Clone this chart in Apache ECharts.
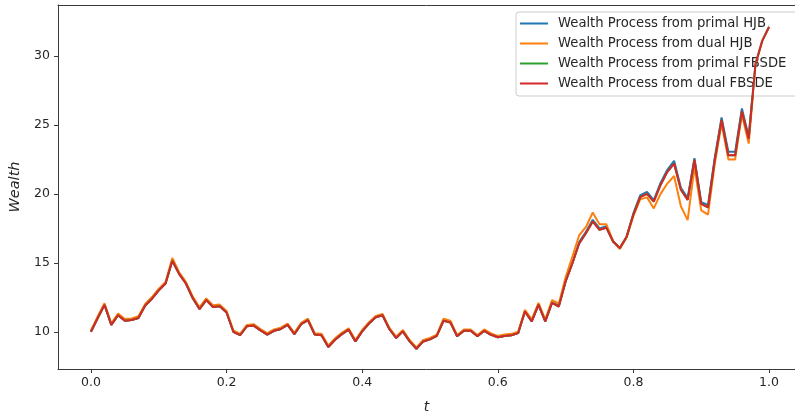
<!DOCTYPE html>
<html>
<head>
<meta charset="utf-8">
<title>Wealth Process</title>
<script src="https://cdn.jsdelivr.net/npm/echarts@6/dist/echarts.min.js"></script>
<style>
  html, body { margin: 0; padding: 0; background: #ffffff; overflow: hidden; }
  #chart { width: 795px; height: 412px; }
</style>
</head>
<body>
<div id="chart"></div>
<script>
// Time grid: 101 steps from t = 0 to t = 1
const STEPS = 100;

// Wealth paths (one value per time step)
const primalHJB = [
  10.0, 11.0, 11.95, 10.5, 11.2, 10.8, 10.85, 11.0, 11.9, 12.4,
  13.0, 13.5, 15.15, 14.2, 13.5, 12.45, 11.65, 12.3, 11.8, 11.85,
  11.4, 10.0, 9.75, 10.4, 10.45, 10.1, 9.8, 10.07, 10.2, 10.5,
  9.83, 10.55, 10.85, 9.8, 9.75, 8.9, 9.42, 9.83, 10.15, 9.3,
  10.03, 10.6, 11.05, 11.2, 10.2, 9.55, 10.03, 9.3, 8.77, 9.3,
  9.45, 9.7, 10.85, 10.75, 9.67, 10.07, 10.07, 9.67, 10.07, 9.78,
  9.6, 9.7, 9.75, 9.9, 11.47, 10.75, 11.96, 10.75, 12.15, 11.9,
  13.65, 14.97, 16.5, 17.25, 18.12, 17.5, 17.65, 16.55, 16.07, 16.9,
  18.6, 19.9, 20.15, 19.55, 20.8, 21.75, 22.4, 20.45, 19.7, 22.6,
  19.4, 19.2, 22.65, 25.55, 23.05, 23.05, 26.2, 24.15, 29.5, 31.2,
  32.2
];
const dualHJB = [
  10.1, 11.12, 12.07, 10.62, 11.32, 10.92, 10.97, 11.12, 12.02, 12.52,
  13.12, 13.62, 15.35, 14.32, 13.62, 12.57, 11.77, 12.42, 11.92, 11.97,
  11.5, 10.1, 9.85, 10.5, 10.55, 10.2, 9.9, 10.17, 10.3, 10.6,
  9.93, 10.65, 10.95, 9.9, 9.85, 9.0, 9.52, 9.93, 10.25, 9.4,
  10.13, 10.7, 11.15, 11.3, 10.3, 9.65, 10.13, 9.4, 8.87, 9.4,
  9.55, 9.8, 10.95, 10.8, 9.77, 10.17, 10.17, 9.77, 10.17, 9.88,
  9.7, 9.8, 9.85, 10.0, 11.6, 10.9, 12.1, 10.9, 12.3, 12.05,
  13.95, 15.45, 17.0, 17.6, 18.65, 17.8, 17.8, 16.6, 16.0, 16.85,
  18.4, 19.6, 19.75, 18.95, 20.0, 20.75, 21.3, 19.1, 18.1, 21.95,
  18.8, 18.5, 22.2, 25.1, 22.5, 22.5, 25.75, 23.65, 29.3, 31.1,
  32.1
];
const primalFBSDE = [
  10.0, 11.0, 11.95, 10.5, 11.2, 10.8, 10.85, 11.0, 11.9, 12.4,
  13.0, 13.5, 15.15, 14.2, 13.5, 12.45, 11.65, 12.3, 11.8, 11.85,
  11.4, 10.0, 9.75, 10.4, 10.45, 10.1, 9.8, 10.07, 10.2, 10.5,
  9.83, 10.55, 10.85, 9.8, 9.75, 8.9, 9.42, 9.83, 10.15, 9.3,
  10.03, 10.6, 11.05, 11.2, 10.2, 9.55, 10.03, 9.3, 8.77, 9.3,
  9.45, 9.7, 10.8, 10.67, 9.67, 10.07, 10.07, 9.67, 10.07, 9.78,
  9.6, 9.7, 9.75, 9.9, 11.47, 10.75, 11.96, 10.75, 12.1, 11.83,
  13.65, 14.97, 16.4, 17.15, 18.0, 17.4, 17.55, 16.55, 16.07, 16.9,
  18.5, 19.76, 20.0, 19.44, 20.65, 21.6, 22.2, 20.3, 19.57, 22.46,
  19.27, 19.03, 22.46, 25.36, 22.8, 22.8, 26.0, 24.0, 29.4, 31.1,
  32.1
];
const dualFBSDE = [
  10.0, 11.0, 11.95, 10.5, 11.2, 10.8, 10.85, 11.0, 11.9, 12.4,
  13.0, 13.5, 15.15, 14.2, 13.5, 12.45, 11.65, 12.3, 11.8, 11.85,
  11.4, 10.0, 9.75, 10.4, 10.45, 10.1, 9.8, 10.07, 10.2, 10.5,
  9.83, 10.55, 10.85, 9.8, 9.75, 8.9, 9.42, 9.83, 10.15, 9.3,
  10.03, 10.6, 11.05, 11.2, 10.2, 9.55, 10.03, 9.3, 8.77, 9.3,
  9.45, 9.7, 10.8, 10.67, 9.67, 10.07, 10.07, 9.67, 10.07, 9.78,
  9.6, 9.7, 9.75, 9.9, 11.47, 10.75, 11.96, 10.75, 12.1, 11.83,
  13.65, 14.97, 16.4, 17.15, 18.0, 17.4, 17.55, 16.55, 16.07, 16.9,
  18.5, 19.76, 20.0, 19.44, 20.65, 21.6, 22.2, 20.3, 19.57, 22.46,
  19.27, 19.03, 22.46, 25.36, 22.8, 22.8, 26.0, 24.0, 29.4, 31.1,
  32.1
];

const seriesNames = [
  'Wealth Process from primal HJB',
  'Wealth Process from dual HJB',
  'Wealth Process from primal FBSDE',
  'Wealth Process from dual FBSDE'
];
const seriesColors = ['#1f77b4', '#ff7f0e', '#2ca02c', '#d62728'];

const xTicks = [0, 0.2, 0.4, 0.6, 0.8, 1.0];
const yTicks = [10, 15, 20, 25, 30];

const FONT = 'DejaVu Sans';
const INK = '#262626';
const SPINE = '#3a3a3a';
// visible part of the time axis (the plot box continues past the right edge)
const X_MIN = -0.0486, X_MAX = 1.0383;

function pairs(values) {
  return values.map((v, i) => [i / STEPS, v]);
}

const chart = echarts.init(document.getElementById('chart'), null, { renderer: 'canvas' });

chart.setOption({
  animation: false,
  backgroundColor: '#ffffff',
  textStyle: { fontFamily: FONT },
  grid: {
    left: 58, top: 5, right: 0, height: 364,
    containLabel: false,
    outerBoundsMode: 'none',
    show: false
  },
  legend: {
    left: 516, top: 12,
    orient: 'vertical',
    icon: 'rect',
    itemWidth: 28, itemHeight: 2, itemGap: 5,
    padding: [4, 16, 5, 4],
    backgroundColor: 'rgba(255,255,255,0.8)',
    borderColor: '#cccccc', borderWidth: 1, borderRadius: 3,
    textStyle: { fontFamily: FONT, fontSize: 13.2, color: INK, padding: [0, 0, 0, 5], lineHeight: 15 },
    data: seriesNames
  },
  xAxis: [
    {
      type: 'value', min: X_MIN, max: X_MAX,
      name: 't', nameLocation: 'middle', nameGap: 31,
      nameTextStyle: { fontFamily: FONT, fontSize: 14, fontStyle: 'italic', color: INK },
      axisLine: { show: true, onZero: false, lineStyle: { color: SPINE, width: 1 } },
      axisTick: { show: true, customValues: xTicks, length: 4, lineStyle: { color: SPINE } },
      axisLabel: {
        customValues: xTicks, margin: 7,
        formatter: v => v.toFixed(1),
        fontFamily: FONT, fontSize: 12.5, color: INK
      },
      splitLine: { show: false }
    },
    {
      // top frame line of the plot box
      type: 'value', position: 'top', min: X_MIN, max: X_MAX,
      axisLine: { show: true, onZero: false, lineStyle: { color: SPINE, width: 1 } },
      axisTick: { show: false },
      axisLabel: { show: false },
      splitLine: { show: false }
    }
  ],
  yAxis: {
    type: 'value', min: 7.3, max: 33.7,
    name: 'Wealth', nameLocation: 'middle', nameGap: 33, nameRotate: 90,
    nameTextStyle: { fontFamily: FONT, fontSize: 14.5, fontStyle: 'italic', color: INK },
    axisLine: { show: true, onZero: false, lineStyle: { color: SPINE, width: 1 } },
    axisTick: { show: true, customValues: yTicks, length: 4, lineStyle: { color: SPINE } },
    axisLabel: {
      customValues: yTicks, margin: 8,
      fontFamily: FONT, fontSize: 12.5, color: INK
    },
    splitLine: { show: false }
  },
  series: [primalHJB, dualHJB, primalFBSDE, dualFBSDE].map((vals, k) => ({
    name: seriesNames[k],
    type: 'line',
    xAxisIndex: 0,
    data: pairs(vals),
    showSymbol: false,
    symbol: 'none',
    color: seriesColors[k],
    lineStyle: { color: seriesColors[k], width: 2 },
    z: 2 + k
  }))
});
</script>
</body>
</html>
